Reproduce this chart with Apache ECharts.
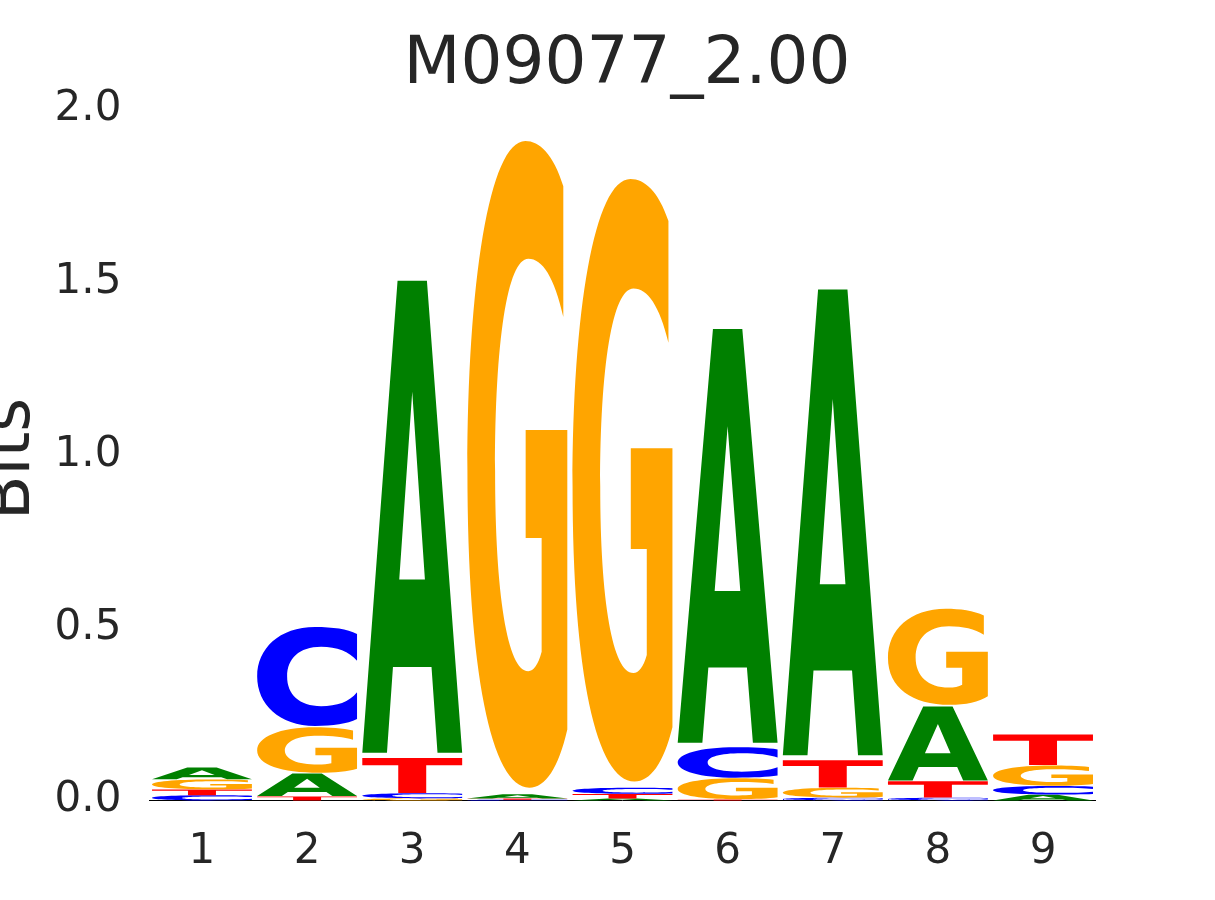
<!DOCTYPE html>
<html>
<head>
<meta charset="utf-8">
<script src="https://cdn.jsdelivr.net/npm/echarts@6/dist/echarts.min.js"></script>
<style>
html,body{margin:0;padding:0;background:#fff;}
#chart{width:1215px;height:900px;}
</style>
</head>
<body>
<div id="chart"></div>
<script>
// ---- data (bits per letter at each position) ----
const positions = ['1', '2', '3', '4', '5', '6', '7', '8', '9'];
const bitsA = [0.035, 0.067, 1.394, 0.012, 0.006, 1.222, 1.376, 0.218, 0.017];
const bitsC = [0.015, 0.292, 0.015, 0.002, 0.018, 0.090, 0.008, 0.008, 0.025];
const bitsG = [0.029, 0.134, 0.006, 1.910, 1.780, 0.062, 0.029, 0.284, 0.060];
const bitsT = [0.017, 0.012, 0.103, 0.004, 0.013, 0.003, 0.080, 0.048, 0.090];
const yTicks = [0, 0.5, 1.0, 1.5, 2.0];
const titleText = 'M09077_2.00';
const yName = 'Bits';

// ---- glyph outlines (normalised 100x100 boxes, stretched to fit) ----
const GLYPH = {
  A: 'M0,100 L35.3,0 L64.7,0 L100,100 L75.3,100 L69.3,81.8 L30.7,81.8 L24.7,100 Z ' +
     'M50,23.5 L37,63.3 L62.7,63.3 Z',
  C: 'M100,7 C90,2 76,0 58,0 C22,0 0,22 0,50 C0,78 22,100 58,100 C76,100 90,98 100,93 ' +
     'L100,66 C92,76 80,80 64,80 C42,80 30,68 30,50 C30,32 42,20 64,20 C80,20 92,25 100,34 Z',
  G: 'M96,7 C86,2 72,0 58,0 C22,0 0,22 0,51 C0,82 24,100 62,100 C78,100 91,97 100,91 ' +
     'L100,44.7 L58.3,44.7 L58.3,61.4 L74.3,61.4 L74.3,79 C71,81 66,82 61,82 ' +
     'C40,82 27.7,70 27.7,51 C27.7,31 40,18.2 61,18.2 C75,18.2 87,21 96,27.2 Z',
  T: 'M0,0 L100,0 L100,21 L64,21 L64,100 L36,100 L36,21 L0,21 Z'
};
const letters = [
  { name: 'A', values: bitsA, color: '#008000' },
  { name: 'C', values: bitsC, color: '#0000ff' },
  { name: 'G', values: bitsG, color: '#ffa500' },
  { name: 'T', values: bitsT, color: '#ff0000' }
];

// build stacked rows: [position index, base, top, letter index]
const stackData = [];
positions.forEach((p, i) => {
  const order = letters.map((l, li) => ({ li, v: l.values[i] }))
                       .sort((a, b) => a.v - b.v);
  let base = 0;
  order.forEach(o => {
    stackData.push([i, base, base + o.v, o.li]);
    base += o.v;
  });
});

const textColor = '#262626';
const font = 'DejaVu Sans';

const chart = echarts.init(document.getElementById('chart'), null, { renderer: 'canvas' });
chart.setOption({
  backgroundColor: '#ffffff',
  animation: false,
  title: {
    text: titleText,
    left: 622,
    top: 28,
    textAlign: 'center',
    textStyle: { fontFamily: font, fontSize: 66, fontWeight: 'normal', color: textColor }
  },
  grid: { left: 149.4, top: 109.5, width: 946.2, height: 691, containLabel: false },
  xAxis: {
    type: 'category',
    data: positions,
    boundaryGap: true,
    axisLine: { show: true, lineStyle: { color: '#000000', width: 1 } },
    axisTick: { show: false },
    splitLine: { show: false },
    axisLabel: { fontFamily: font, fontSize: 42, color: textColor, margin: 31 }
  },
  yAxis: {
    type: 'value',
    min: 0,
    max: 2,
    interval: 0.5,
    axisLine: { show: false },
    axisTick: { show: false },
    splitLine: { show: false },
    axisLabel: {
      fontFamily: font, fontSize: 42, color: textColor, margin: 28,
      padding: [6, 0, 0, 0],
      formatter: v => yTicks.indexOf(v) >= 0 ? v.toFixed(1) : ''
    }
  },
  graphic: [{
    type: 'text',
    x: 12.5,
    y: 459,
    rotation: Math.PI / 2,
    style: {
      text: yName,
      fontFamily: font,
      fontSize: 65,
      fill: textColor,
      textAlign: 'center',
      textVerticalAlign: 'middle'
    }
  }],
  series: [{
    type: 'custom',
    data: stackData,
    encode: { x: 0, y: [1, 2] },
    clip: false,
    renderItem: function (params, api) {
      const i = api.value(0);
      const b = api.value(1);
      const t = api.value(2);
      const li = api.value(3);
      const p0 = api.coord([i, b]);
      const p1 = api.coord([i, t]);
      const bw = api.size([1, 0])[0] * 0.95;
      const h = p0[1] - p1[1];
      const pad = h * 0.01;
      const L = letters[li];
      return {
        type: 'path',
        shape: {
          pathData: GLYPH[L.name],
          x: p0[0] - bw / 2,
          y: p1[1] + pad,
          width: bw,
          height: Math.max(h - 2 * pad, 0.01),
          layout: 'cover'
        },
        style: { fill: L.color }
      };
    }
  }]
});
</script>
</body>
</html>
